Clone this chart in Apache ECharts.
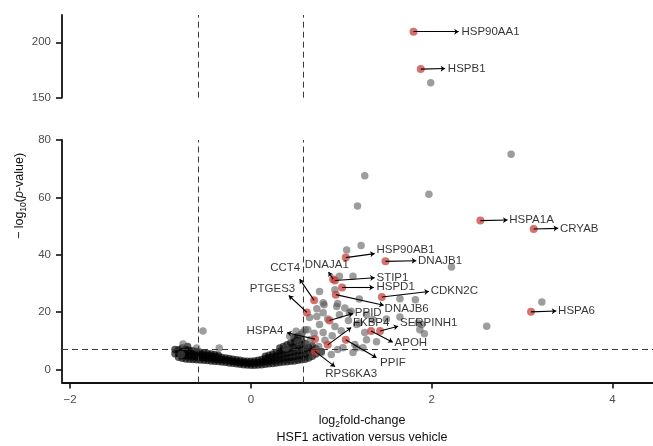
<!DOCTYPE html>
<html><head><meta charset="utf-8">
<script src="https://cdn.jsdelivr.net/npm/echarts@6/dist/echarts.min.js"></script>
<style>html,body{margin:0;padding:0;background:#fff}#c{width:653px;height:446px}</style>
</head><body><div id="c"></div>
<script>
// ---- data ----
const xTicks = [-2, 0, 2, 4];
const yTicksLow = [0, 20, 40, 60, 80];
const yTicksHigh = [150, 200];
const fcCut = 0.585;
const pCut = 7.0;

const blackPts = [
[-0.84,5.5],[-0.84,7.0],
[-0.80,4.3],[-0.80,5.6],[-0.80,6.9],
[-0.76,3.9],[-0.76,5.0],[-0.76,6.2],[-0.76,7.5],
[-0.72,3.7],[-0.72,4.8],[-0.72,5.9],[-0.72,7.0],
[-0.68,3.6],[-0.68,4.6],[-0.68,5.6],[-0.68,6.6],
[-0.64,3.5],[-0.64,4.5],[-0.64,5.5],[-0.64,6.5],
[-0.60,3.4],[-0.60,4.4],[-0.60,5.4],[-0.60,6.3],
[-0.56,3.3],[-0.56,4.3],[-0.56,5.2],[-0.56,6.0],
[-0.52,3.2],[-0.52,4.1],[-0.52,5.0],[-0.52,5.8],
[-0.48,3.1],[-0.48,4.0],[-0.48,4.9],[-0.48,5.6],
[-0.44,3.0],[-0.44,3.9],[-0.44,4.7],[-0.44,5.4],
[-0.40,2.9],[-0.40,3.7],[-0.40,4.5],[-0.40,5.2],
[-0.36,2.8],[-0.36,3.6],[-0.36,4.4],[-0.36,5.0],
[-0.32,2.6],[-0.32,3.4],[-0.32,4.2],
[-0.28,2.5],[-0.28,3.3],[-0.28,4.0],
[-0.24,2.3],[-0.24,3.1],[-0.24,3.8],
[-0.20,2.2],[-0.20,2.9],[-0.20,3.6],
[-0.16,2.0],[-0.16,2.7],[-0.16,3.4],
[-0.12,1.8],[-0.12,2.5],[-0.12,3.2],
[-0.08,1.7],[-0.08,2.4],[-0.08,3.0],
[-0.04,1.6],[-0.04,2.3],[-0.04,2.9],
[0.00,1.5],[0.00,2.2],[0.00,2.9],
[0.04,1.5],[0.04,2.3],[0.04,3.0],
[0.08,1.6],[0.08,2.4],[0.08,3.2],
[0.12,1.7],[0.12,2.6],[0.12,3.5],
[0.16,1.8],[0.16,2.8],[0.16,3.8],[0.16,4.6],
[0.20,2.0],[0.20,3.0],[0.20,4.1],[0.20,5.0],
[0.24,2.1],[0.24,3.2],[0.24,4.4],[0.24,5.4],
[0.28,2.3],[0.28,3.4],[0.28,4.7],[0.28,5.8],
[0.32,2.4],[0.32,3.6],[0.32,5.0],[0.32,6.3],[0.32,7.5],
[0.36,2.6],[0.36,3.9],[0.36,5.3],[0.36,6.7],[0.36,8.0],
[0.40,2.7],[0.40,4.1],[0.40,5.6],[0.40,7.1],[0.40,8.6],
[0.44,2.9],[0.44,4.3],[0.44,5.9],[0.44,7.5],[0.44,9.2],
[0.48,3.0],[0.48,4.5],[0.48,6.2],[0.48,7.9],[0.48,9.7],[0.48,11.0],
[0.52,3.2],[0.52,4.8],[0.52,6.5],[0.52,8.3],[0.52,10.1],[0.52,11.6],
[0.56,3.4],[0.56,5.0],[0.56,6.8],[0.56,8.7],[0.56,10.5],
[0.60,3.6],[0.60,5.3],[0.60,7.2],[0.60,9.1],
[0.64,4.0],[0.64,5.8],[0.64,7.7],
[0.68,4.6],[0.68,6.4],[0.68,8.2],
[0.72,5.4],[0.72,7.2],
[0.78,6.3],[-0.70,8.0]
];

const grayPtsLow = [
[2.88,75.0],[1.97,61.1],[1.26,67.5],[1.18,57.0],[2.22,35.7],[3.22,23.5],[2.61,15.1],
[1.06,41.7],[1.22,43.2],[0.98,32.5],[1.13,32.5],[0.93,27.8],[0.76,27.2],[1.65,24.7],[1.82,24.3],[1.20,24.6],
[0.73,21.2],[0.81,22.6],[0.95,22.0],[1.04,21.4],[1.11,20.3],[0.85,17.6],[0.73,18.5],[1.08,17.1],[1.20,16.2],
[1.35,17.4],[1.50,17.6],[1.65,18.3],[1.85,16.2],[1.87,13.9],[1.89,15.7],[1.92,12.5],
[-0.53,13.4],[-0.75,8.9],[-0.77,5.2],[-0.60,7.5],[-0.35,7.5],[0.39,7.5],[0.56,12.2],[0.43,11.6],[0.57,12.9],
[0.80,23.3],[0.96,23.0],[0.80,19.8],[0.98,19.1],[1.09,19.8],[1.28,19.1],[0.76,15.7],[0.93,15.0],[1.17,15.7],
[1.26,12.9],[1.28,10.4],[1.39,9.7],[1.15,8.7],[0.96,7.0],[1.13,5.9],[0.80,12.9],[0.60,13.9],[0.65,18.1],
[1.17,7.6],[1.24,7.6],[1.02,7.6],[0.89,5.2],[0.50,13.3],[0.63,13.9],[0.52,9.8],[0.66,10.5],[0.75,8.0],
[0.82,10.2],[0.62,8.8],[0.70,12.6],[0.90,11.8],[1.00,13.5],[0.78,5.8],[0.68,5.0]
];
const grayPtsHigh = [[1.99,163.4]];

const genes      = ['HSP90AA1','HSPB1','HSPA1A','CRYAB','HSPA6','HSP90AB1','DNAJB1','DNAJA1','STIP1','HSPD1','DNAJB6','CDKN2C','CCT4','PTGES3','PPID','FKBP4','SERPINH1','APOH','PPIF','HSPA4','RPS6KA3'];
const geneX      = [1.80, 1.88, 2.54, 3.13, 3.10, 1.05, 1.49, 0.91, 0.93, 1.01, 0.94, 1.45, 0.70, 0.62, 0.87, 0.85, 1.43, 1.33, 1.05, 0.71, 0.71];
const geneY      = [209.5, 175.8, 51.9, 49.0, 20.1, 39.0, 37.7, 31.5, 31.0, 28.6, 26.1, 25.3, 24.1, 19.9, 17.1, 8.6, 13.4, 13.4, 10.4, 10.6, 6.3];
const arrowEndX  = [2.30, 2.15, 2.84, 3.40, 3.38, 1.37, 1.83, 0.86, 1.37, 1.36, 1.47, 1.97, 0.54, 0.42, 1.13, 1.11, 1.63, 1.57, 1.39, 0.40, 0.93];
const arrowEndY  = [209.5, 176.3, 52.1, 49.2, 20.4, 40.4, 37.9, 34.0, 32.0, 28.6, 22.4, 27.2, 31.5, 25.8, 19.5, 14.6, 15.1, 9.5, 4.1, 12.8, 1.0];
const labelX     = [2.33, 2.18, 2.86, 3.42, 3.40, 1.39, 1.85, 0.84, 1.39, 1.39, 1.48, 1.99, 0.38, 0.24, 1.15, 1.13, 1.65, 1.59, 1.43, 0.36, 1.11];
const labelY     = [209.6, 176.4, 52.2, 49.2, 20.4, 41.8, 37.9, 36.6, 32.1, 28.7, 21.2, 27.5, 35.4, 28.2, 19.8, 16.4, 16.3, 9.3, 2.5, 13.6, -1.4];
const labelAlign = ['left','left','left','left','left','left','left','center','left','left','left','left','center','center','left','left','left','left','left','right','center'];

// ---- chart ----
const FONT = '"Liberation Sans", Arial, Helvetica, sans-serif';
const splitCut = 100;
const idxTop = genes.map((g,i)=>i).filter(i => geneY[i] > splitCut);
const idxLow = genes.map((g,i)=>i).filter(i => geneY[i] <= splitCut);

const arrowLines = idx => idx.map(i => [{coord:[geneX[i], geneY[i]]}, {coord:[arrowEndX[i], arrowEndY[i]]}]);
const labelData = idx => idx.map(i => ({value:[labelX[i], labelY[i]], name: genes[i], label:{align: labelAlign[i]}}));
const redData = idx => idx.map(i => ({value:[geneX[i], geneY[i]], name: genes[i]}));

const dashStyle = {color:'#3a3a3a', width:1, type:[6,4]};
const arrowStyle = {color:'#000', width:1.1, type:'solid'};

const axisLabelStyle = {color:'#4d4d4d', fontSize:11.5, fontFamily:FONT};
const xMin = -2.09, xMax = 4.45;
const labelStyle = {show:true, position:'inside', formatter:'{b}', color:'#000', fontSize:11.5, fontFamily:FONT, verticalAlign:'middle'};

const chart = echarts.init(document.getElementById('c'));
chart.setOption({
  animation:false,
  backgroundColor:'#fff',
  grid:[
    {left:62, right:0, top:15, height:82.7, containLabel:false, outerBoundsMode:'none'},
    {left:62, right:0, top:140, height:242.5, containLabel:false, outerBoundsMode:'none'}
  ],
  xAxis:[
    {gridIndex:0, type:'value', min:xMin, max:xMax, show:false},
    {gridIndex:1, type:'value', min:xMin, max:xMax,
      axisLine:{show:true, onZero:false, lineStyle:{color:'#111', width:1.8}},
      axisTick:{show:true, customValues:xTicks, length:6, lineStyle:{color:'#111', width:1.6}},
      axisLabel:Object.assign({customValues:xTicks, margin:11, formatter: v => (v<0 ? '\u2212'+Math.abs(v) : ''+v)}, axisLabelStyle),
      splitLine:{show:false}}
  ],
  yAxis:[
    {gridIndex:0, type:'value', min:150, max:224.6,
      axisLine:{show:true, onZero:false, lineStyle:{color:'#111', width:1.8}},
      axisTick:{show:true, customValues:yTicksHigh, length:6, lineStyle:{color:'#111', width:1.6}},
      axisLabel:Object.assign({customValues:yTicksHigh, margin:11}, axisLabelStyle),
      splitLine:{show:false}},
    {gridIndex:1, type:'value', min:-4.53, max:80,
      axisLine:{show:true, onZero:false, lineStyle:{color:'#111', width:1.8}},
      axisTick:{show:true, customValues:yTicksLow, length:6, lineStyle:{color:'#111', width:1.6}},
      axisLabel:Object.assign({customValues:yTicksLow, margin:11}, axisLabelStyle),
      splitLine:{show:false}}
  ],
  series:[
    {type:'scatter', xAxisIndex:1, yAxisIndex:1, data:blackPts, symbolSize:7.5, z:2,
      itemStyle:{color:'rgba(0,0,0,0.8)'}, silent:true},
    {type:'scatter', xAxisIndex:1, yAxisIndex:1, data:grayPtsLow, symbolSize:7.5, z:3,
      itemStyle:{color:'rgba(80,80,80,0.7)'}, silent:true,
      markLine:{silent:true, symbol:['none','arrow'], symbolSize:4.5, label:{show:false},
        lineStyle:arrowStyle, data:arrowLines(idxLow), z:6}},
    {type:'scatter', xAxisIndex:0, yAxisIndex:0, data:grayPtsHigh, symbolSize:7.5, z:3,
      itemStyle:{color:'rgba(80,80,80,0.7)'}, silent:true,
      markLine:{silent:true, symbol:['none','arrow'], symbolSize:4.5, label:{show:false},
        lineStyle:arrowStyle, data:arrowLines(idxTop), z:6}},
    {type:'scatter', xAxisIndex:1, yAxisIndex:1, data:redData(idxLow), symbolSize:8, z:4,
      itemStyle:{color:'rgba(200,62,58,0.92)'}, silent:true,
      markLine:{silent:true, symbol:['none','none'], label:{show:false}, lineStyle:dashStyle,
        data:[{xAxis:-fcCut},{xAxis:fcCut},{yAxis:pCut}], z:5}},
    {type:'scatter', xAxisIndex:0, yAxisIndex:0, data:redData(idxTop), symbolSize:8, z:4,
      itemStyle:{color:'rgba(200,62,58,0.92)'}, silent:true,
      markLine:{silent:true, symbol:['none','none'], label:{show:false}, lineStyle:dashStyle,
        data:[{xAxis:-fcCut},{xAxis:fcCut}], z:5}},
    {type:'scatter', xAxisIndex:1, yAxisIndex:1, data:labelData(idxLow), symbolSize:1, z:8,
      itemStyle:{color:'rgba(0,0,0,0)'}, silent:true, label:labelStyle},
    {type:'scatter', xAxisIndex:0, yAxisIndex:0, data:labelData(idxTop), symbolSize:1, z:8,
      itemStyle:{color:'rgba(0,0,0,0)'}, silent:true, label:labelStyle}
  ],
  graphic:[
    {type:'text', x:20, y:196, rotation:Math.PI/2,
      style:{text:'{n|\u2212 log}{s|10}{n|(}{i|p}{n|-value)}', align:'center', verticalAlign:'middle',
        rich:{
          n:{fontSize:12.5, fontFamily:FONT, fill:'#111', lineHeight:16},
          i:{fontSize:12.5, fontFamily:FONT, fontStyle:'italic', fill:'#111', lineHeight:16},
          s:{fontSize:8.5, fontFamily:FONT, fill:'#111', lineHeight:9, verticalAlign:'bottom'}
        }}},
    {type:'text', x:362, y:421,
      style:{text:'{n|log}{s|2}{n|fold-change}', align:'center', verticalAlign:'middle',
        rich:{
          n:{fontSize:12.5, fontFamily:FONT, fill:'#111', lineHeight:16},
          s:{fontSize:8.5, fontFamily:FONT, fill:'#111', lineHeight:9, verticalAlign:'bottom'}
        }}},
    {type:'text', x:362, y:438,
      style:{text:'HSF1 activation versus vehicle', align:'center', verticalAlign:'middle',
        fontSize:12.5, fontFamily:FONT, fill:'#111'}}
  ]
});
</script>
</body></html>
